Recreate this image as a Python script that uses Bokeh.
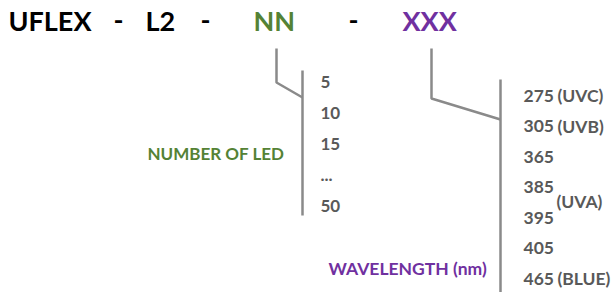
from bokeh.plotting import figure
from bokeh.models import Range1d
from bokeh.embed import file_html
from bokeh.resources import INLINE
from bokeh.core.properties import value

# --- content ---
code_parts = ["UFLEX", "-", "L2", "-", "NN", "-", "XXX"]
code_colors = ["black", "black", "black", "black", "#548235", "black", "#7030A0"]
led_options = ["5", "10", "15", "...", "50"]
led_title = "NUMBER OF LED"
wl_values = ["275", "305", "365", "385", "395", "405", "465"]
wl_suffix = ["(UVC)", "(UVB)", "", "", "", "", "(BLUE)"]
uva_label = "(UVA)"
wl_title = "WAVELENGTH (nm)"

FONT = "Lato"
GRAY = "#595959"
LINE = "#8a8a8a"
GREEN = "#548235"
PURPLE = "#7030A0"

W, H = 612, 292
p = figure(width=W, height=H, output_backend="svg", toolbar_location=None,
           x_range=Range1d(0, W), y_range=Range1d(H, 0), min_border=0)
p.axis.visible = False
p.grid.visible = False
p.outline_line_color = None
p.background_fill_color = "white"
p.border_fill_color = "white"

# title code parts
part_x = [8, 113, 145, 200, 253, 348, 402]
p.text(x=part_x, y=[20] * len(code_parts), text=code_parts, text_color=code_colors,
       text_font=value(FONT), text_font_style="bold", text_font_size="27px",
       text_baseline="middle", text_align="left")

# NN connector
p.line(x=[276, 276, 302], y=[48, 82, 97], line_color=LINE, line_width=2.5)
p.line(x=[302, 302], y=[70, 215], line_color=LINE, line_width=2.5)
led_y = [81 + 31 * i for i in range(len(led_options))]
p.text(x=[320] * len(led_options), y=led_y, text=led_options, text_color=GRAY,
       text_font=value(FONT), text_font_style="bold", text_font_size="17px",
       text_baseline="middle", text_align="left")
p.text(x=[147], y=[153], text=[led_title], text_color=GREEN,
       text_font=value(FONT), text_font_style="bold", text_font_size="17px",
       text_baseline="middle", text_align="left")

# XXX connector
p.line(x=[431, 431, 500], y=[48, 98, 119], line_color=LINE, line_width=2.5)
p.line(x=[500, 500], y=[79, 300], line_color=LINE, line_width=2.5)
wl_y = [95 + 30.5 * i for i in range(len(wl_values))]
p.text(x=[523] * len(wl_values), y=wl_y, text=wl_values, text_color=GRAY,
       text_font=value(FONT), text_font_style="bold", text_font_size="17.5px",
       text_baseline="middle", text_align="left")
sx = [557] * len(wl_suffix)
p.text(x=sx, y=wl_y, text=wl_suffix, text_color=GRAY,
       text_font=value(FONT), text_font_style="bold", text_font_size="17.5px",
       text_baseline="middle", text_align="left")
p.text(x=[556], y=[(wl_y[3] + wl_y[4]) / 2 - 1], text=[uva_label], text_color=GRAY,
       text_font=value(FONT), text_font_style="bold", text_font_size="17.5px",
       text_baseline="middle", text_align="left")
p.text(x=[328], y=[268], text=[wl_title], text_color=PURPLE,
       text_font=value(FONT), text_font_style="bold", text_font_size="17.5px",
       text_baseline="middle", text_align="left")

open("out.html", "w").write(file_html(p, INLINE))
